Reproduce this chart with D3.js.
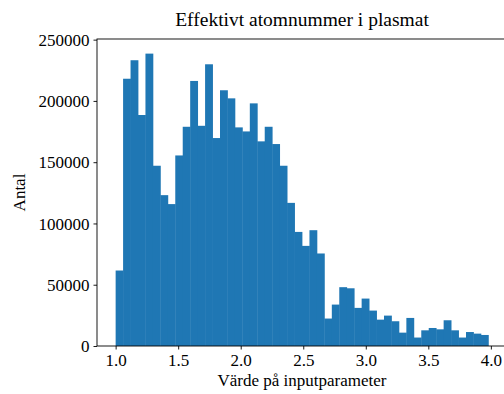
<!DOCTYPE html>
<html>
<head>
<meta charset="utf-8">
<script src="https://cdn.jsdelivr.net/npm/d3@7"></script>
<style>
  body { margin: 0; background: #fff; }
</style>
</head>
<body>
<svg id="chart"></svg>
<script>
// Chart size
const svgWidth = 504;
const svgHeight = 394;
const margin = { top: 39, right: -3, bottom: 48, left: 97 };
const serif = '"Liberation Serif", "DejaVu Serif", serif';

// Histogram data (50 bins from 1.0 to 3.98)
const binStart = 1.0;
const binEnd = 3.98;
const counts = [
  61600, 218100, 233200, 188500, 238600, 147100, 123100, 115800, 155500, 178900,
  216300, 179700, 229900, 169700, 208700, 202100, 178400, 175100, 198000, 167000,
  178900, 164800, 147100, 116800, 93100, 81700, 94500, 75500, 22400, 33800,
  48000, 47100, 31100, 38700, 28900, 21500, 24800, 20200, 10900, 22900,
  6900, 12800, 14700, 13600, 21000, 12800, 6900, 11400, 10100, 9000
];
const xTicks = [1.0, 1.5, 2.0, 2.5, 3.0, 3.5, 4.0];
const yTicks = [0, 50000, 100000, 150000, 200000, 250000];

const width = svgWidth - margin.left - margin.right;
const height = svgHeight - margin.top - margin.bottom;

const svg = d3.select('#chart')
    .attr('width', svgWidth)
    .attr('height', svgHeight)
    .style('font-family', serif);

const g = svg.append('g')
    .attr('transform', 'translate(' + margin.left + ',' + margin.top + ')');

// Bins
const binWidth = (binEnd - binStart) / counts.length;
const bins = counts.map((c, i) => ({ x0: binStart + i * binWidth, x1: binStart + (i + 1) * binWidth, n: c }));

// Scales (matplotlib style 5% margins)
const pad = (binEnd - binStart) * 0.05;
const x = d3.scaleLinear().domain([binStart - pad, binEnd + pad]).range([0, width]);
const y = d3.scaleLinear().domain([0, d3.max(counts) * 1.05]).range([height, 0]);

// Bars
g.selectAll('.bar')
    .data(bins)
    .enter().append('rect')
    .attr('class', 'bar')
    .attr('x', d => x(d.x0))
    .attr('width', d => x(d.x1) - x(d.x0) + 0.4)
    .attr('y', d => y(d.n))
    .attr('height', d => height - y(d.n))
    .style('fill', '#1f77b4');

// Axes
const xAxis = d3.axisBottom(x).tickValues(xTicks).tickSize(3.5).tickPadding(4).tickFormat(d3.format('.1f'));
const yAxis = d3.axisLeft(y).tickValues(yTicks).tickSize(3.5).tickPadding(4).tickFormat(d3.format('d'));

g.append('g')
    .attr('transform', 'translate(0,' + height + ')')
    .call(xAxis)
    .attr('font-family', serif)
    .call(a => a.selectAll('text').style('font-family', serif).style('font-size', '17px'));

g.append('g')
    .call(yAxis)
    .attr('font-family', serif)
    .call(a => a.selectAll('text').style('font-family', serif).style('font-size', '17px').attr('dy', '0.33em'));

g.selectAll('.domain').remove();
g.selectAll('.tick line').style('stroke', '#000').style('stroke-width', 0.9);

// Frame (spines)
g.append('rect')
    .attr('x', 0)
    .attr('y', 0)
    .attr('width', width)
    .attr('height', height)
    .style('fill', 'none')
    .style('stroke', '#000')
    .style('stroke-width', 0.9);

// Title and labels
svg.append('text')
    .attr('x', margin.left + width / 2)
    .attr('y', 26)
    .attr('text-anchor', 'middle')
    .style('font-size', '19.5px')
    .text('Effektivt atomnummer i plasmat');

svg.append('text')
    .attr('x', margin.left + width / 2)
    .attr('y', 386)
    .attr('text-anchor', 'middle')
    .style('font-size', '17px')
    .text('Värde på inputparameter');

svg.append('text')
    .attr('transform', 'translate(25,' + (margin.top + height / 2) + ') rotate(-90)')
    .attr('text-anchor', 'middle')
    .style('font-size', '17px')
    .text('Antal');
</script>
</body>
</html>
